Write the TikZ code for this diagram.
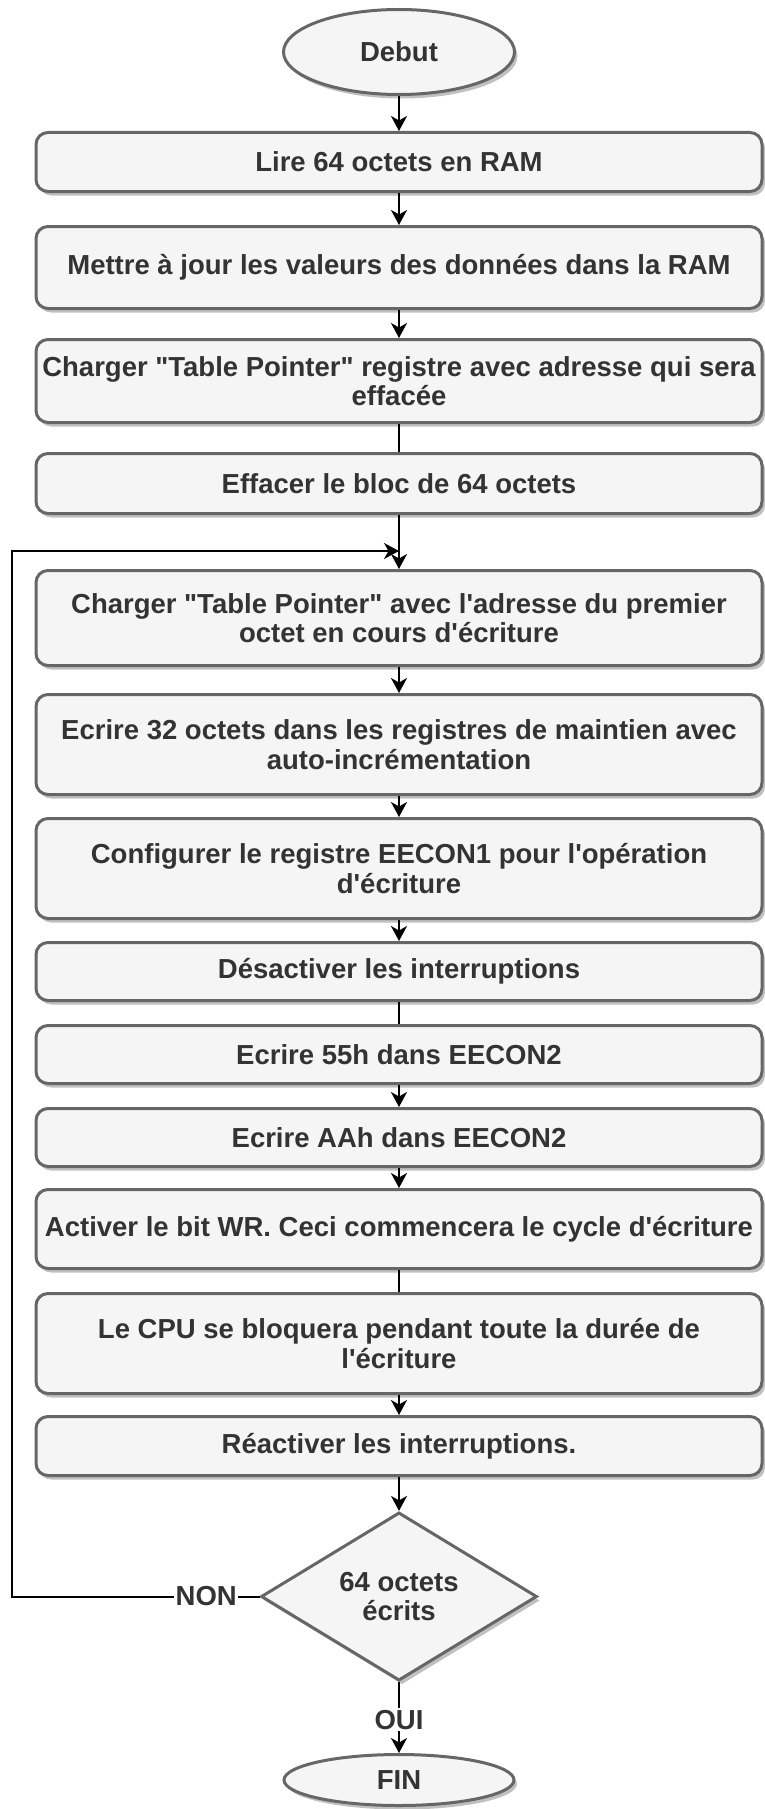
\documentclass[tikz,border=0pt]{standalone}
\usepackage{fontspec}
\newfontfamily\flowfont{Liberation Sans}
\usetikzlibrary{arrows.meta,shapes.geometric,shadows}
\definecolor{boxfill}{HTML}{F5F5F5}
\definecolor{boxline}{HTML}{666666}
\definecolor{txt}{HTML}{333333}
\definecolor{shade}{HTML}{C0C0C0}
\newcommand\qd{\textquotedbl}
\newcommand\qs{\textquotesingle}
\tikzset{
  labelfont/.style={font=\flowfont\bfseries\fontsize{27.5}{29.5}\selectfont},
  base/.style={draw=boxline, line width=3pt, fill=boxfill, text=txt, labelfont,
    align=center, inner sep=0pt,
    drop shadow={shadow xshift=3pt, shadow yshift=-4pt, fill=shade, opacity=1}},
  stepbox/.style={base, rectangle, rounded corners=12pt, minimum width=726pt},
  term/.style={base, ellipse},
  decision/.style={base, diamond, minimum width=276pt, minimum height=152pt},
  conn/.style={line width=2pt, draw=black},
  flow/.style={conn, -{Stealth[length=15pt,width=16pt,inset=4.5pt]}},
  edgelabel/.style={fill=white, text=txt, labelfont, inner sep=1.5pt}
}
\begin{document}
\begin{tikzpicture}[x=1pt, y=-1pt]
\useasboundingbox (0,0) rectangle (765,1809);

% start and steps
\node[term, minimum width=231pt, minimum height=85pt] (deb) at (399,52) {Debut};
\node[stepbox, minimum height=59pt]  (b1)  at (399,162)    {Lire 64 octets en RAM};
\node[stepbox, minimum height=82pt]  (b2)  at (399,267.5)  {Mettre à jour les valeurs des données dans la RAM};
\node[stepbox, minimum height=83pt]  (b3)  at (399,381)    {Charger \qd Table Pointer\qd{} registre avec adresse qui sera\\effacée};
\node[stepbox, minimum height=60pt]  (b4)  at (399,483.5)  {Effacer le bloc de 64 octets};
\node[stepbox, minimum height=95pt]  (b5)  at (399,618)    {Charger \qd Table Pointer\qd{} avec l\qs adresse du premier\\octet en cours d\qs écriture};
\node[stepbox, minimum height=100pt] (b6)  at (399,744.5)  {Ecrire 32 octets dans les registres de maintien avec\\auto-incrémentation};
\node[stepbox, minimum height=100pt] (b7)  at (399,868.5)  {Configurer le registre EECON1 pour l\qs opération\\d\qs écriture};
\node[stepbox, minimum height=58pt]  (b8)  at (399,971.5)  {Désactiver les interruptions};
\node[stepbox, minimum height=58pt]  (b9)  at (399,1054.5) {Ecrire 55h dans EECON2};
\node[stepbox, minimum height=58pt]  (b10) at (399,1137.5) {Ecrire AAh dans EECON2};
\node[stepbox, minimum height=79pt]  (b11) at (399,1229)   {Activer le bit WR. Ceci commencera le cycle d\qs écriture};
\node[stepbox, minimum height=100pt] (b12) at (399,1343.5) {Le CPU se bloquera pendant toute la durée de\\l\qs écriture};
\node[stepbox, minimum height=59pt]  (b13) at (399,1446)   {Réactiver les interruptions.};

% decision and end
\node[decision] (dia) at (399,1596.5) {64 octets\\écrits};
\node[term, minimum width=230pt, minimum height=51pt] (fin) at (399,1780) {FIN};

% loop-back points
\coordinate (loopx) at (12,1596.5);
\coordinate (join) at (399,551);

% connectors
\draw[flow] (deb) -- (b1);
\draw[flow] (b1) -- (b2);
\draw[flow] (b2) -- (b3);
\draw[conn] (b3) -- (b4);
\draw[flow] (b4) -- (b5);
\draw[flow] (b5) -- (b6);
\draw[flow] (b6) -- (b7);
\draw[flow] (b7) -- (b8);
\draw[conn] (b8) -- (b9);
\draw[flow] (b9) -- (b10);
\draw[flow] (b10) -- (b11);
\draw[conn] (b11) -- (b12);
\draw[flow] (b12) -- (b13);
\draw[flow] (b13) -- (dia);
\draw[flow] (dia.south) -- node[edgelabel, pos=0.53] {OUI} (fin.north);
\draw[flow] (dia.west) -- node[edgelabel, pos=0.215] {NON} (loopx) |- (join);
\end{tikzpicture}
\end{document}
